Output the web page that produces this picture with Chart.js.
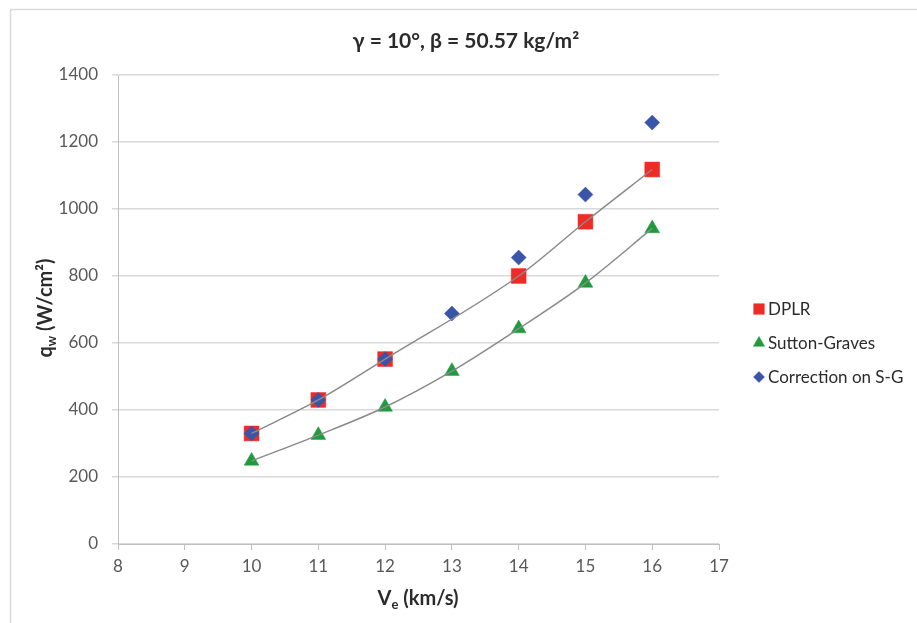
<!DOCTYPE html>
<html>
<head>
<meta charset="utf-8">
<title>Heat flux vs entry velocity</title>
<script src="https://cdn.jsdelivr.net/npm/chart.js@4/dist/chart.umd.min.js"></script>
<style>
  body { margin: 0; background: #fff; }
  #wrap { width: 917px; height: 623px; position: relative; }
</style>
</head>
<body>
<div id="wrap"><canvas id="grafico"></canvas></div>
<script>
// velocidades (km/s) y flujo de calor (W/cm2)
const velocidades = [10, 11, 12, 13, 14, 15, 16];
const dplr = [330, 430, 552, null, 800, 962, 1118];
const suttonGraves = [248, 325, 409, 516, 643, 779, 942];
const correccionSG = [330, 430, 552, 688, 855, 1043, 1258];
const ticksX = [8, 9, 10, 11, 12, 13, 14, 15, 16, 17];
const ticksY = [0, 200, 400, 600, 800, 1000, 1200, 1400];

const fuente = "Lato, 'Open Sans', sans-serif";
const rojo = "#ee2b24";
const verde = "#1f9a3d";
const azul = "#3a55a8";

function puntos(valores) {
    return velocidades
        .map((v, i) => ({ x: v, y: valores[i] }))
        .filter(p => p.y !== null);
}

const series = [
    { nombre: "DPLR", valores: dplr, color: rojo, estilo: "rect", radio: 10.5, radioLeyenda: 7.5 },
    { nombre: "Sutton-Graves", valores: suttonGraves, color: verde, estilo: "triangle", radio: 8.5, radioLeyenda: 6.5 },
    { nombre: "Correction on S-G", valores: correccionSG, color: azul, estilo: "rectRot", radio: 7.5, radioLeyenda: 5.5 }
];

// líneas de tendencia para DPLR y Sutton-Graves
const tendencias = [dplr, suttonGraves].map(valores => ({
    type: "line",
    data: puntos(valores),
    borderColor: "#8a8a8a",
    borderWidth: 1.5,
    pointRadius: 0,
    tension: 0.4,
    cubicInterpolationMode: "monotone",
    fill: false,
    order: 0
}));

const marcadores = series.map((s, i) => ({
    label: s.nombre,
    data: puntos(s.valores),
    pointStyle: s.estilo,
    pointRadius: s.radio,
    pointHoverRadius: s.radio,
    backgroundColor: s.color,
    borderColor: s.color,
    borderWidth: 0.5,
    showLine: false,
    order: 3 - i
}));

const titulosPlugin = {
    id: "titulos",
    beforeDraw(chart) {
        const ctx = chart.ctx;
        ctx.save();
        ctx.fillStyle = "#fff";
        ctx.fillRect(0, 0, chart.width, chart.height);
        ctx.strokeStyle = "#d9d9d9";
        ctx.lineWidth = 1.5;
        ctx.beginPath();
        ctx.moveTo(10.5, chart.height);
        ctx.lineTo(10.5, 9.5);
        ctx.lineTo(chart.width, 9.5);
        ctx.stroke();
        ctx.restore();
    },
    afterDraw(chart) {
        const ctx = chart.ctx;
        ctx.save();
        ctx.fillStyle = "#2b2b2b";
        ctx.textBaseline = "alphabetic";

        // título
        ctx.font = "bold 21px " + fuente;
        ctx.textAlign = "center";
        ctx.fillText("γ = 10°, β = 50.57 kg/m²", 466, 48);

        // título eje x con subíndice
        ctx.textAlign = "left";
        const grande = "bold 20px " + fuente;
        const chico = "bold 13px " + fuente;
        ctx.font = grande;
        const wV = ctx.measureText("V").width;
        const wResto = ctx.measureText(" (km/s)").width;
        ctx.font = chico;
        const wE = ctx.measureText("e").width;
        let x = 418 - (wV + wE + wResto) / 2;
        ctx.font = grande;
        ctx.fillText("V", x, 605);
        ctx.font = chico;
        ctx.fillText("e", x + wV, 609);
        ctx.font = grande;
        ctx.fillText(" (km/s)", x + wV + wE, 605);

        // título eje y rotado
        ctx.translate(45, 308);
        ctx.rotate(-Math.PI / 2);
        ctx.font = grande;
        const wQ = ctx.measureText("q").width;
        const wUnid = ctx.measureText(" (W/cm²)").width;
        ctx.font = chico;
        const wW = ctx.measureText("w").width;
        x = -(wQ + wW + wUnid) / 2;
        ctx.font = grande;
        ctx.fillText("q", x, 7);
        ctx.font = chico;
        ctx.fillText("w", x + wQ, 11);
        ctx.font = grande;
        ctx.fillText(" (W/cm²)", x + wQ + wW, 7);
        ctx.restore();

        // leyenda
        ctx.save();
        ctx.font = "17px " + fuente;
        ctx.textBaseline = "middle";
        ctx.textAlign = "left";
        series.forEach((s, i) => {
            const y = 309 + i * 34;
            ctx.fillStyle = s.color;
            ctx.strokeStyle = s.color;
            ctx.lineWidth = 0.5;
            Chart.helpers.drawPoint(ctx, { pointStyle: s.estilo, radius: s.radioLeyenda, rotation: 0, borderWidth: 0.5 }, 759, y);
            ctx.fillStyle = "#2b2b2b";
            ctx.fillText(s.nombre, 768, y + 1);
        });
        ctx.restore();
    }
};

new Chart(document.getElementById("grafico"), {
    type: "scatter",
    data: { datasets: [...tendencias, ...marcadores] },
    options: {
        responsive: true,
        maintainAspectRatio: false,
        animation: false,
        layout: { padding: { top: 75, right: 198, left: 0, bottom: 0 } },
        plugins: {
            legend: { display: false },
            title: { display: false },
            tooltip: { enabled: false }
        },
        scales: {
            x: {
                type: "linear",
                min: ticksX[0],
                max: ticksX[ticksX.length - 1],
                afterFit(scale) { scale.height = 79; },
                afterBuildTicks(scale) { scale.ticks = ticksX.map(v => ({ value: v })); },
                ticks: {
                    color: "#595959",
                    font: { family: fuente, size: 17 },
                    padding: 6,
                    callback: v => String(v)
                },
                grid: { drawOnChartArea: false, drawTicks: true, tickLength: 6, color: "#bfbfbf" },
                border: { color: "#bfbfbf", width: 1 }
            },
            y: {
                type: "linear",
                min: ticksY[0],
                max: ticksY[ticksY.length - 1],
                afterFit(scale) { scale.width = 118; },
                afterBuildTicks(scale) { scale.ticks = ticksY.map(v => ({ value: v })); },
                ticks: {
                    color: "#595959",
                    font: { family: fuente, size: 17 },
                    padding: 14,
                    callback: v => String(v)
                },
                grid: { color: "#d9d9d9", lineWidth: 1.5, drawTicks: true, tickLength: 6 },
                border: { color: "#bfbfbf", width: 1 }
            }
        }
    },
    plugins: [titulosPlugin]
});
</script>
</body>
</html>
